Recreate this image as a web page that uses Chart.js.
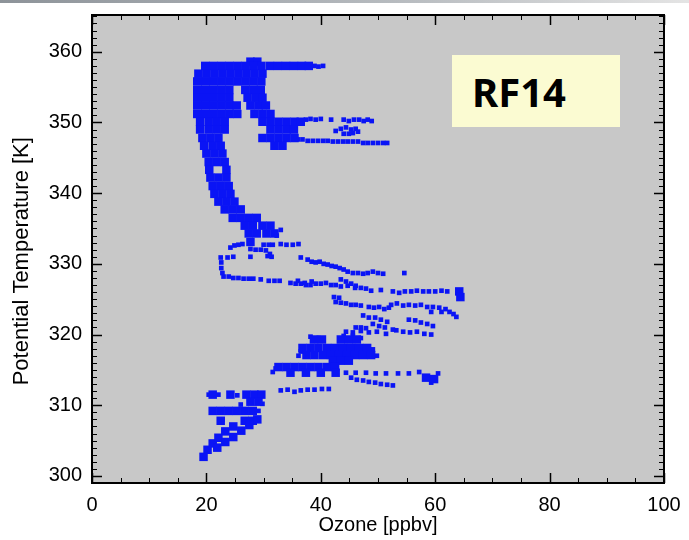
<!DOCTYPE html>
<html>
<head>
<meta charset="utf-8">
<title>RF14 ozone profile</title>
<script src="https://cdn.jsdelivr.net/npm/chart.js@4.4.1/dist/chart.umd.min.js"></script>
<style>
  html, body { margin: 0; padding: 0; background: #fff; }
  #wrap { position: relative; width: 689px; height: 540px; overflow: hidden; }
  #topbar {
    position: absolute; left: 0; top: 0; width: 689px; height: 3px;
    background: linear-gradient(to right, #8d9399, #b9bdc1 60%, #e4e4e4);
  }
  #flight {
    position: absolute; left: 452px; top: 55px; width: 168px; height: 72px;
    background: #fbfbd2; box-sizing: border-box; padding-left: 20px;
    font: bold 40px "Noto Sans", sans-serif; line-height: 74px; color: #000;
  }
</style>
</head>
<body>
<div id="wrap">
  <canvas id="ozoneChart" width="689" height="540"></canvas>
  <div id="topbar"></div>
  <div id="flight">RF14</div>
</div>
<script>
// Achsen
const xTicks = [0, 20, 40, 60, 80, 100];
const yTicks = [300, 310, 320, 330, 340, 350, 360];
const xRange = [0, 100];
const yRange = [299, 365.2];

// dichte Bereiche [Ozon ppbv, pot. Temperatur K]
const topBlob = [
  [27.7, 358.6], [28.9, 358.6],
  [19.8, 358.0], [21.2, 358.0], [22.6, 358.0], [24.0, 358.0], [25.4, 358.0], [26.8, 358.0], [28.2, 358.0],
  [29.6, 358.0], [31.1, 358.0], [32.5, 358.0], [33.9, 358.0], [35.3, 358.0], [36.7, 358.0], [37.9, 358.0],
  [18.6, 356.9], [20.0, 356.9], [21.4, 356.9], [22.8, 356.9], [24.2, 356.9], [25.6, 356.9], [27.0, 356.9], [28.4, 356.9], [29.8, 356.9],
  [18.4, 355.8], [19.8, 355.8], [21.2, 355.8], [22.6, 355.8], [24.0, 355.8], [25.4, 355.8], [26.8, 355.8], [28.2, 355.8], [29.6, 355.8],
  [18.4, 354.6], [19.8, 354.6], [21.2, 354.6], [22.6, 354.6], [24.0, 354.6], [26.8, 354.6], [28.2, 354.6], [29.5, 354.6],
  [18.4, 353.5], [19.8, 353.5], [21.2, 353.5], [22.6, 353.5], [24.0, 353.5], [27.2, 353.5], [28.6, 353.5], [29.8, 353.5],
  [18.4, 352.4], [19.8, 352.4], [21.2, 352.4], [22.6, 352.4], [24.0, 352.4], [25.3, 352.4], [27.7, 352.4], [29.1, 352.4], [30.4, 352.4],
  [18.4, 351.2], [19.8, 351.2], [21.2, 351.2], [22.6, 351.2], [24.0, 351.2], [25.4, 351.2], [28.4, 351.2], [29.8, 351.2], [31.2, 351.2],
  [18.9, 350.1], [20.4, 350.1], [21.8, 350.1], [23.2, 350.1], [29.8, 350.1], [31.2, 350.1], [32.6, 350.1], [34.0, 350.1], [35.4, 350.1], [36.5, 350.1],
  [18.9, 349.0], [20.4, 349.0], [21.8, 349.0], [23.2, 349.0], [31.2, 349.0], [32.6, 349.0], [34.0, 349.0], [35.3, 349.0],
  [19.3, 347.8], [20.7, 347.8], [22.1, 347.8], [29.8, 347.8], [31.2, 347.8], [32.6, 347.8], [34.0, 347.8], [35.4, 347.8],
  [19.6, 346.7], [21.1, 346.7], [22.5, 346.7], [31.9, 346.7], [33.3, 346.7]
];

const column = [
  [20.0, 345.6], [21.4, 345.6], [22.8, 345.6],
  [20.4, 344.4], [21.8, 344.4], [23.2, 344.4],
  [20.5, 343.3], [23.5, 343.3],
  [20.7, 342.2], [22.1, 342.2], [23.5, 342.2],
  [21.1, 341.0], [22.5, 341.0], [23.9, 341.0],
  [21.4, 339.9], [22.8, 339.9], [24.2, 339.9],
  [22.1, 338.8], [23.5, 338.8], [24.9, 338.8],
  [23.2, 337.7], [24.6, 337.7], [26.0, 337.7],
  [24.6, 336.5], [26.0, 336.5], [27.4, 336.5], [28.8, 336.5],
  [26.7, 335.4], [28.1, 335.4], [29.8, 335.4], [31.2, 335.4],
  [27.4, 334.3], [28.8, 334.3], [30.5, 334.3], [31.9, 334.3],
  [27.7, 333.1]
];

const lowerCore = [
  [38.8, 319.3], [40.2, 319.3], [43.5, 319.3], [44.9, 319.3], [46.3, 319.3],
  [36.8, 318.1], [38.2, 318.1], [39.6, 318.1], [41.1, 318.1], [42.5, 318.1], [43.9, 318.1], [45.3, 318.1], [46.7, 318.1], [48.1, 318.1],
  [37.5, 317.1], [38.9, 317.1], [40.4, 317.1], [41.8, 317.1], [43.2, 317.1], [44.6, 317.1], [46.0, 317.1], [47.4, 317.1], [48.8, 317.1],
  [42.1, 316.3], [43.5, 316.3], [44.9, 316.3],
  [32.6, 315.4], [34.0, 315.4], [35.4, 315.4], [36.8, 315.4], [38.2, 315.4], [39.6, 315.4], [41.1, 315.4], [42.5, 315.4],
  [34.7, 314.6], [37.4, 314.6], [40.0, 314.6], [42.6, 314.6],
  [64.2, 326.1], [64.4, 325.3], [58.4, 313.9], [59.8, 313.7],
  [21.1, 311.5], [24.2, 311.5], [27.0, 311.5], [28.4, 311.5], [29.6, 311.5],
  [27.7, 310.5], [29.1, 310.5],
  [21.1, 309.2], [22.5, 309.2], [23.9, 309.2], [25.3, 309.2], [26.7, 309.2], [28.1, 309.2],
  [22.5, 307.8], [26.7, 307.8], [28.1, 307.8],
  [19.5, 302.7], [20.2, 303.7], [21.1, 304.6], [22.1, 305.4], [23.3, 306.3], [24.7, 307.0],
  [21.9, 304.0], [23.3, 304.8], [24.7, 305.5], [26.1, 306.4], [27.5, 307.2], [28.9, 308.0]
];

// einzelne Messpunkte
const upperDots = [
  [38.9, 358.0], [39.6, 357.9], [40.4, 358.0],
  [37.4, 350.4], [38.2, 350.5], [39.1, 350.4], [40.0, 350.5], [41.8, 350.4], [44.0, 350.4], [44.9, 350.2],
  [45.8, 350.4], [46.7, 350.4], [47.5, 350.2], [48.2, 350.4], [48.9, 350.2],
  [42.6, 348.8], [43.5, 349.1], [44.4, 349.3], [45.3, 349.0], [46.1, 349.1], [44.0, 348.4], [44.9, 348.4], [45.6, 348.5], [46.5, 348.7],
  [36.0, 347.6], [36.8, 347.6], [37.7, 347.4], [38.6, 347.4], [39.5, 347.4], [40.4, 347.4], [41.2, 347.4],
  [42.1, 347.3], [43.0, 347.3], [43.9, 347.3], [44.7, 347.3], [45.6, 347.3], [46.5, 347.3],
  [47.4, 347.1], [48.2, 347.1], [49.1, 347.1], [50.0, 347.1], [50.9, 347.1], [51.6, 347.1]
];

const middleDots = [
  [33.0, 334.8], [32.3, 334.0],
  [24.2, 332.3], [24.9, 332.6], [25.6, 332.7], [26.3, 332.8],
  [27.7, 332.1], [28.6, 332.0], [29.5, 332.0], [30.4, 331.9], [31.1, 331.4], [31.4, 331.0],
  [30.0, 332.7], [30.9, 332.7], [31.6, 332.7], [33.0, 332.8], [34.0, 332.7], [35.1, 332.7], [36.1, 332.8],
  [23.7, 330.9], [24.7, 331.0], [27.7, 331.0], [30.7, 331.1],
  [22.5, 330.9], [22.6, 330.2], [22.6, 329.4], [22.8, 328.7], [23.0, 328.2],
  [23.9, 328.2], [24.7, 328.0], [25.6, 328.0], [26.5, 327.9], [27.4, 327.9], [28.2, 327.9],
  [29.5, 327.8], [30.9, 327.6], [31.9, 327.6], [32.8, 327.6],
  [36.5, 330.9], [37.7, 330.6], [38.4, 330.3], [39.1, 330.2], [39.8, 330.3], [40.5, 330.0],
  [41.2, 329.9], [41.9, 329.7], [42.6, 329.6], [43.3, 329.4], [44.0, 329.2],
  [44.7, 328.9], [45.6, 328.7], [46.5, 328.7], [47.4, 328.6], [48.2, 328.7], [49.1, 328.9],
  [50.0, 328.7], [50.9, 328.6], [54.6, 328.7],
  [34.7, 327.3], [35.6, 327.2], [36.5, 327.2], [37.4, 327.0], [38.2, 327.0], [39.1, 327.2],
  [40.0, 327.2], [40.9, 327.3], [41.8, 327.0], [42.6, 327.0],
  [36.0, 327.6], [37.2, 327.3], [38.4, 327.5],
  [43.5, 327.8], [44.4, 327.5], [45.3, 327.2], [46.1, 326.9], [47.0, 326.6], [47.9, 326.5], [48.8, 326.2],
  [43.5, 326.8], [44.7, 326.9], [46.0, 326.6],
  [50.5, 326.3], [52.6, 326.1], [53.7, 325.9], [54.7, 326.1], [55.8, 326.1], [56.8, 326.2],
  [57.9, 326.1], [58.9, 326.1], [60.0, 326.1], [61.1, 326.2], [62.1, 326.1],
  [42.3, 325.3], [43.2, 325.2],
  [42.6, 324.6], [43.5, 324.5], [44.4, 324.4], [45.3, 324.2], [46.1, 324.2], [47.0, 324.1],
  [48.4, 323.9], [49.3, 323.8], [50.2, 323.9], [51.1, 323.6], [51.9, 323.8],
  [52.3, 324.2], [53.3, 324.4], [54.4, 324.1], [55.4, 324.2], [56.5, 324.1], [57.5, 324.2],
  [58.6, 323.9], [59.6, 323.9], [60.7, 323.8], [61.8, 323.6], [62.5, 323.2], [63.2, 322.9],
  [63.7, 322.5], [61.1, 323.2], [59.3, 323.2],
  [47.4, 322.7], [48.4, 322.4], [49.5, 322.4], [50.5, 322.1], [51.6, 321.8],
  [49.1, 321.5], [50.2, 321.2], [51.2, 321.0],
  [55.4, 322.1], [56.5, 322.0], [57.5, 321.7], [58.6, 321.5], [59.6, 321.2],
  [46.1, 321.0], [47.0, 321.0], [47.9, 320.9],
  [53.2, 320.6], [54.4, 320.4], [55.6, 320.3], [56.8, 320.4], [58.1, 320.1], [59.3, 320.0],
  [44.4, 320.4], [45.6, 320.3], [47.0, 320.5], [48.4, 320.3], [49.8, 320.4], [51.4, 320.1], [52.6, 320.7]
];

const lowerDots = [
  [38.2, 319.7], [39.6, 319.5], [44.0, 319.8], [45.6, 319.8], [47.0, 319.5],
  [49.1, 317.9], [49.8, 317.0], [36.5, 317.6], [36.1, 317.0],
  [44.4, 314.6], [46.1, 314.6], [47.9, 314.6], [49.6, 314.5], [51.4, 314.5], [53.5, 314.5], [55.4, 314.5], [57.2, 314.7],
  [60.5, 314.5], [59.3, 313.2], [32.1, 315.2], [31.6, 314.7],
  [45.3, 313.9], [46.3, 313.6], [47.4, 313.5], [48.4, 313.3], [49.5, 313.2], [50.5, 313.0], [51.6, 312.9], [52.6, 312.8],
  [33.0, 312.1], [34.2, 312.2], [35.4, 311.9], [36.5, 312.1], [37.7, 312.2], [38.9, 312.2], [40.2, 312.3], [41.4, 312.3],
  [22.8, 308.0], [20.4, 311.5], [22.1, 311.5], [25.4, 311.4], [26.0, 310.1], [29.8, 310.2], [29.1, 309.2]
];

const toPoints = arr => arr.map(p => ({ x: p[0], y: p[1] }));

// Hintergrund, Rahmen und Ticks wie im IDL-Plot
const plotFrame = {
  id: "plotFrame",
  beforeDatasetsDraw(chart) {
    const { ctx, chartArea: a } = chart;
    ctx.save();
    ctx.fillStyle = "#c8c8c8";
    ctx.fillRect(a.left, a.top, a.right - a.left, a.bottom - a.top);
    ctx.restore();
  },
  afterDatasetsDraw(chart) {
    const { ctx, chartArea: a, scales } = chart;
    const xs = scales.x;
    const ys = scales.y;
    ctx.save();
    ctx.strokeStyle = "#000";

    function xTick(v, len, w) {
      const px = Math.round(xs.getPixelForValue(v)) + 0.5;
      ctx.lineWidth = w;
      ctx.beginPath();
      ctx.moveTo(px, a.bottom); ctx.lineTo(px, a.bottom - len);
      ctx.moveTo(px, a.top); ctx.lineTo(px, a.top + len);
      ctx.stroke();
    }
    function yTick(v, len, w) {
      const py = Math.round(ys.getPixelForValue(v)) + 0.5;
      ctx.lineWidth = w;
      ctx.beginPath();
      ctx.moveTo(a.left, py); ctx.lineTo(a.left + len, py);
      ctx.moveTo(a.right, py); ctx.lineTo(a.right - len, py);
      ctx.stroke();
    }

    for (let v = 5; v < 100; v += 5) {
      if (v % 20 !== 0) xTick(v, 5, 1);
    }
    xTicks.forEach(v => xTick(v, 10, 1.5));
    for (let v = Math.ceil(yRange[0]); v <= yRange[1]; v++) {
      if (v % 10 !== 0) yTick(v, 5, 1);
    }
    yTicks.forEach(v => yTick(v, 10, 1.5));

    ctx.lineWidth = 2;
    ctx.strokeRect(a.left, a.top, a.right - a.left, a.bottom - a.top);
    ctx.restore();
  }
};

// Label-Überstand nicht in das Layout einrechnen
function noScalePadding(scale) {
  scale.paddingTop = 0;
  scale.paddingBottom = 0;
  scale.paddingLeft = 0;
  scale.paddingRight = 0;
}

Chart.defaults.font.family = "\"Liberation Sans\", Arial, sans-serif";
Chart.defaults.font.size = 20;
Chart.defaults.color = "#000";

const ctx = document.getElementById("ozoneChart");

// eslint-disable-next-line no-undef
new Chart(ctx, {
  type: "scatter",
  data: {
    datasets: [
      {
        data: toPoints(topBlob.concat(column, lowerCore)),
        pointStyle: "rect",
        pointRadius: 6,
        pointBorderWidth: 0,
        backgroundColor: "#0a14f5"
      },
      {
        data: toPoints(upperDots.concat(middleDots, lowerDots)),
        pointStyle: "rect",
        pointRadius: 3.3,
        pointBorderWidth: 0,
        backgroundColor: "#0a14f5"
      }
    ]
  },
  options: {
    responsive: false,
    animation: false,
    devicePixelRatio: 1,
    layout: { padding: { top: 15, right: 25, left: 0, bottom: 0 } },
    plugins: {
      legend: { display: false },
      tooltip: { enabled: false }
    },
    scales: {
      x: {
        type: "linear",
        min: xRange[0],
        max: xRange[1],
        grid: { display: false, drawTicks: false },
        border: { display: false },
        ticks: { padding: 10, maxRotation: 0 },
        afterBuildTicks: scale => { scale.ticks = xTicks.map(v => ({ value: v })); },
        afterFit: scale => { scale.height = 57; noScalePadding(scale); },
        title: { display: true, text: "Ozone [ppbv]", padding: { top: 0, bottom: 3 } }
      },
      y: {
        type: "linear",
        min: yRange[0],
        max: yRange[1],
        grid: { display: false, drawTicks: false },
        border: { display: false },
        ticks: { padding: 10 },
        afterBuildTicks: scale => { scale.ticks = yTicks.map(v => ({ value: v })); },
        afterFit: scale => { scale.width = 92; noScalePadding(scale); },
        title: {
          display: true,
          text: "Potential Temperature [K]    ",
          font: { size: 22 },
          padding: { top: 9, bottom: 0 }
        }
      }
    }
  },
  plugins: [plotFrame]
});
</script>
</body>
</html>
